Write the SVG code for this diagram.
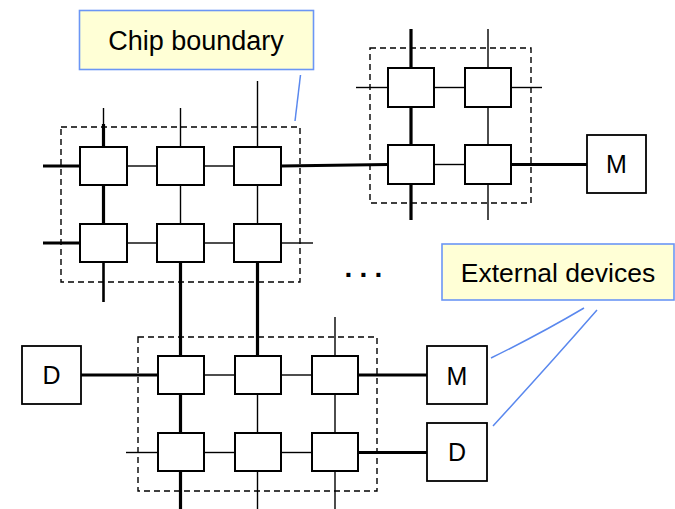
<svg xmlns="http://www.w3.org/2000/svg" width="675" height="509" viewBox="0 0 675 509">
  <style>
    .bg { fill: #ffffff; }
    .router { fill: #ffffff; stroke: #000000; stroke-width: 2; }
    .dev { fill: #ffffff; stroke: #000000; stroke-width: 1.8; }
    .chip { fill: none; stroke: #000000; stroke-width: 1.4; stroke-dasharray: 6 4; }
    .thin { stroke: #000000; stroke-width: 1.4; fill: none; }
    .thick { stroke: #000000; stroke-width: 3.2; fill: none; }
    .mid { stroke: #000000; stroke-width: 2.6; fill: none; }
    .label { font-family: "Liberation Sans", Arial, sans-serif; fill: #000000; text-anchor: middle; }
    .callout { fill: #ffffd6; stroke: #6b96f5; stroke-width: 1.6; }
    .leader { stroke: #5a88ee; stroke-width: 1.5; fill: none; }
  </style>

  <rect class="bg" x="0" y="0" width="675" height="509"/>

  <!-- chip boundaries -->
  <g id="chips">
    <rect id="chip-a" class="chip" x="61" y="127" width="239" height="155"/>
    <rect id="chip-b" class="chip" x="370" y="48" width="161" height="155"/>
    <rect id="chip-c" class="chip" x="138" y="337" width="239" height="154"/>
  </g>

  <!-- links between routers, chips and devices -->
  <g id="connectors">
    <!-- chip A rows -->
    <line class="thick" x1="43" y1="166" x2="80" y2="166"/>
    <line class="thin" x1="127" y1="166" x2="157" y2="166"/>
    <line class="thin" x1="204" y1="166" x2="234" y2="166"/>
    <line class="thick" x1="281" y1="166" x2="388" y2="164.5"/>
    <line class="thick" x1="43" y1="243" x2="80" y2="243"/>
    <line class="thin" x1="127" y1="243" x2="157" y2="243"/>
    <line class="thin" x1="204" y1="243" x2="234" y2="243"/>
    <line class="thin" x1="281" y1="243" x2="313" y2="243"/>
    <!-- chip A columns -->
    <line class="thin" x1="103.5" y1="108" x2="103.5" y2="124"/>
    <line class="thick" x1="103.5" y1="124" x2="103.5" y2="147"/>
    <line class="thick" x1="103.5" y1="185" x2="103.5" y2="224"/>
    <line class="mid" x1="103.5" y1="262" x2="103.5" y2="302"/>
    <line class="thin" x1="180.5" y1="108" x2="180.5" y2="147"/>
    <line class="thin" x1="180.5" y1="185" x2="180.5" y2="224"/>
    <line class="thick" x1="180.5" y1="262" x2="180.5" y2="356"/>
    <line class="thin" x1="257.5" y1="81" x2="257.5" y2="147"/>
    <line class="thin" x1="257.5" y1="185" x2="257.5" y2="224"/>
    <line class="thick" x1="257.5" y1="262" x2="257.5" y2="356"/>

    <!-- chip B rows -->
    <line class="thin" x1="356" y1="87.5" x2="388" y2="87.5"/>
    <line class="thin" x1="434" y1="87.5" x2="465" y2="87.5"/>
    <line class="thin" x1="511" y1="87.5" x2="542" y2="87.5"/>
    <line class="thin" x1="434" y1="164.5" x2="465" y2="164.5"/>
    <line class="thick" x1="511" y1="164.5" x2="587" y2="164.5"/>
    <!-- chip B columns -->
    <line class="thick" x1="411" y1="29" x2="411" y2="68"/>
    <line class="thick" x1="411" y1="107" x2="411" y2="145"/>
    <line class="thick" x1="411" y1="184" x2="411" y2="220"/>
    <line class="thin" x1="488" y1="29" x2="488" y2="68"/>
    <line class="thin" x1="488" y1="107" x2="488" y2="145"/>
    <line class="thin" x1="488" y1="184" x2="488" y2="220"/>

    <!-- chip C rows -->
    <line class="thick" x1="81" y1="375" x2="158" y2="375"/>
    <line class="thin" x1="204" y1="375" x2="235" y2="375"/>
    <line class="thin" x1="281" y1="375" x2="312" y2="375"/>
    <line class="thick" x1="358" y1="375" x2="427" y2="375"/>
    <line class="thin" x1="126" y1="452.5" x2="158" y2="452.5"/>
    <line class="thin" x1="204" y1="452.5" x2="235" y2="452.5"/>
    <line class="thin" x1="281" y1="452.5" x2="312" y2="452.5"/>
    <line class="thick" x1="358" y1="452.5" x2="427" y2="452.5"/>
    <!-- chip C columns -->
    <line class="thick" x1="180.5" y1="394" x2="180.5" y2="433"/>
    <line class="thick" x1="180.5" y1="471" x2="180.5" y2="509"/>
    <line class="thin" x1="257.5" y1="394" x2="257.5" y2="433"/>
    <line class="thin" x1="257.5" y1="471" x2="257.5" y2="509"/>
    <line class="thin" x1="335" y1="317" x2="335" y2="356"/>
    <line class="thin" x1="335" y1="394" x2="335" y2="433"/>
    <line class="thin" x1="335" y1="471" x2="335" y2="509"/>
  </g>

  <!-- routers, chip A -->
  <g id="a11"><rect class="router" x="80" y="147" width="47" height="38"/></g>
  <g id="a12"><rect class="router" x="157" y="147" width="47" height="38"/></g>
  <g id="a13"><rect class="router" x="234" y="147" width="47" height="38"/></g>
  <g id="a21"><rect class="router" x="80" y="224" width="47" height="38"/></g>
  <g id="a22"><rect class="router" x="157" y="224" width="47" height="38"/></g>
  <g id="a23"><rect class="router" x="234" y="224" width="47" height="38"/></g>

  <!-- routers, chip B -->
  <g id="b11"><rect class="router" x="388" y="68" width="46" height="39"/></g>
  <g id="b12"><rect class="router" x="465" y="68" width="46" height="39"/></g>
  <g id="b21"><rect class="router" x="388" y="145" width="46" height="39"/></g>
  <g id="b22"><rect class="router" x="465" y="145" width="46" height="39"/></g>

  <!-- routers, chip C -->
  <g id="c11"><rect class="router" x="158" y="356" width="46" height="38"/></g>
  <g id="c12"><rect class="router" x="235" y="356" width="46" height="38"/></g>
  <g id="c13"><rect class="router" x="312" y="356" width="46" height="38"/></g>
  <g id="c21"><rect class="router" x="158" y="433" width="46" height="38"/></g>
  <g id="c22"><rect class="router" x="235" y="433" width="46" height="38"/></g>
  <g id="c23"><rect class="router" x="312" y="433" width="46" height="38"/></g>

  <!-- external devices -->
  <g id="mem-top">
    <rect class="dev" x="587" y="135" width="59" height="58"/>
    <text class="label" x="616.5" y="173" font-size="25">M</text>
  </g>
  <g id="dev-left">
    <rect class="dev" x="22" y="346" width="59" height="58"/>
    <text class="label" x="51.5" y="384" font-size="25">D</text>
  </g>
  <g id="mem-right">
    <rect class="dev" x="427" y="346" width="60" height="58"/>
    <text class="label" x="457" y="385" font-size="25">M</text>
  </g>
  <g id="dev-right">
    <rect class="dev" x="427" y="423" width="60" height="58"/>
    <text class="label" x="457" y="461" font-size="25">D</text>
  </g>

  <!-- ellipsis between chips -->
  <g id="more">
    <text x="344.5" y="277" font-family="Liberation Sans, Arial, sans-serif" font-weight="bold" font-size="28" letter-spacing="7.2">...</text>
  </g>

  <!-- callouts -->
  <g id="callout-chip">
    <rect class="callout" x="79.5" y="10.5" width="234" height="59"/>
    <text class="label" x="196" y="50" font-size="27">Chip boundary</text>
    <line class="leader" x1="300.5" y1="75" x2="295" y2="121"/>
  </g>
  <g id="callout-devices">
    <rect class="callout" x="442" y="244" width="232" height="56"/>
    <text class="label" x="558" y="282" font-size="26.5">External devices</text>
    <path class="leader" d="M491,358 Q540,334 584,308"/>
    <path class="leader" d="M493,426 Q548,366 597,310"/>
  </g>
</svg>
